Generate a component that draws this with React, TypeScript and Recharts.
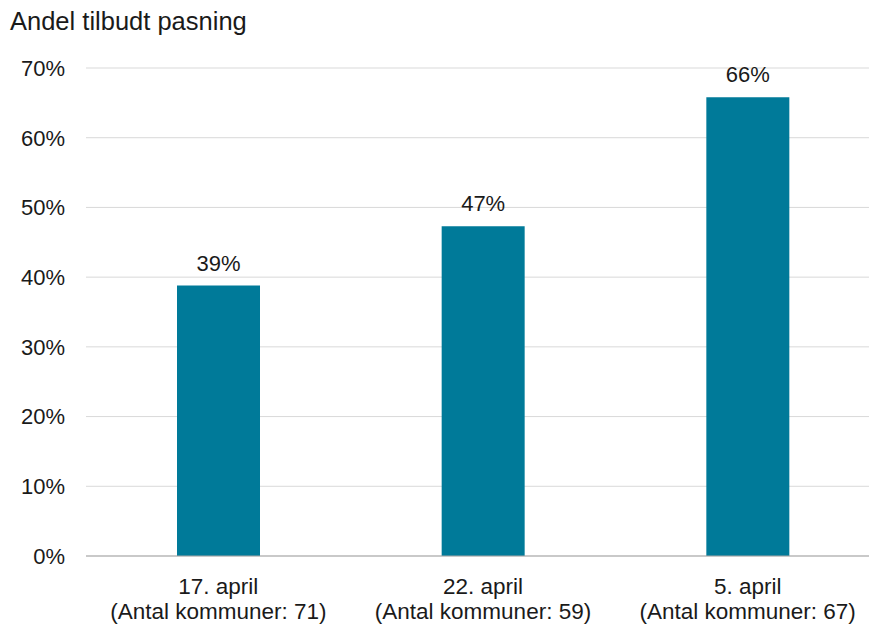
import React from "react";
import { Bar, BarChart, CartesianGrid, LabelList, XAxis, YAxis } from "recharts";

const dates = ["17. april", "22. april", "5. april"];
const counts = [71, 59, 67];
const shares = [38.8, 47.3, 65.8];
const yTicks = [0, 10, 20, 30, 40, 50, 60, 70];

const data = dates.map((d, i) => ({ date: d, count: counts[i], share: shares[i] }));

const FONT = "'Liberation Sans', Arial, sans-serif";

const DateTick = (props: any) => {
  const { x, y, payload, index } = props;
  return (
    <g transform={`translate(${x},${y})`}>
      <text textAnchor="middle" fill="#1a1a1a" fontSize={22.5} fontFamily={FONT}>
        <tspan x={0} dy={30}>{payload.value}</tspan>
        <tspan x={0} dy={25}>{`(Antal kommuner: ${counts[index]})`}</tspan>
      </text>
    </g>
  );
};

export default function App() {
  return (
    <div style={{ position: "absolute", left: 0, top: 0, width: 869, height: 626, overflow: "hidden", background: "#fff", fontFamily: FONT }}>
      <div style={{ position: "absolute", left: 10, top: 7, fontSize: 25.5, color: "#1a1a1a" }}>
        Andel tilbudt pasning
      </div>
      <BarChart
        width={880}
        height={626}
        data={data}
        margin={{ top: 68, right: 0, left: 0, bottom: 40 }}
        barSize={83}
      >
        <CartesianGrid vertical={false} stroke="#d9d9d9" />
        <XAxis
          dataKey="date"
          tick={<DateTick />}
          tickLine={false}
          axisLine={{ stroke: "#a6a6a6" }}
          interval={0}
        />
        <YAxis
          width={86}
          domain={[0, 70]}
          ticks={yTicks}
          tickFormatter={(v: number) => `${v}%`}
          tickLine={false}
          axisLine={false}
          tickSize={0}
          tickMargin={21}
          tick={{ fill: "#1a1a1a", fontSize: 22, fontFamily: FONT }}
        />
        <Bar dataKey="share" fill="#007a99" isAnimationActive={false}>
          <LabelList
            dataKey="share"
            position="top"
            offset={15}
            formatter={(v: any) => `${Math.round(Number(v))}%`}
            style={{ fill: "#1a1a1a", fontSize: 22, fontFamily: FONT }}
          />
        </Bar>
      </BarChart>
    </div>
  );
}
